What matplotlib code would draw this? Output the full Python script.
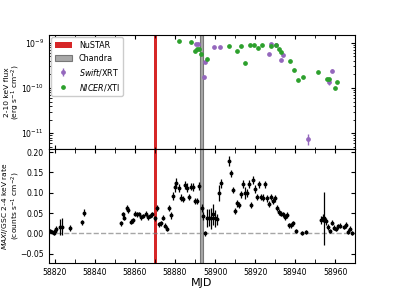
import numpy as np
import matplotlib
matplotlib.use('Agg')
import matplotlib.pyplot as plt
from matplotlib.ticker import MultipleLocator

# ---------- data ----------
# Swift/XRT flux (erg/s/cm2)
swift_mjd = [58890.3, 58891.7, 58894.7, 58895.0, 58899.7, 58902.3, 58926.8,
             58928.2, 58930.3, 58932.8, 58934.2, 58946.5, 58957.2, 58958.5]
swift_flux = [9.2e-10, 9.2e-10, 1.7e-10, 3.7e-10, 8.2e-10, 8.2e-10, 5.7e-10,
              9.4e-10, 8.7e-10, 4.2e-10, 5.4e-10, 7.4e-12, 1.35e-10, 2.4e-10]
swift_err = [4e-11, 4e-11, 1.2e-11, 2e-11, 4e-11, 4e-11, 3e-11,
             5e-11, 4e-11, 2.5e-11, 3e-11, 2e-12, 2e-11, 2e-11]

# NICER/XTI flux
nicer_mjd = [58882.2, 58887.8, 58889.8, 58890.8, 58892.2, 58892.8, 58895.8,
             58907.0, 58911.2, 58912.8, 58915.2, 58917.3, 58919.5, 58921.5,
             58923.5, 58928.2, 58930.5, 58932.2, 58933.2, 58937.5, 58939.5,
             58941.3, 58943.8, 58951.3, 58955.8, 58957.2, 58959.8, 58961.2]
nicer_flux = [1.11e-9, 1.04e-9, 6.5e-10, 7.4e-10, 7.4e-10, 5.5e-10, 4.4e-10,
              8.5e-10, 6.6e-10, 8.3e-10, 3.6e-10, 8.8e-10, 9.0e-10, 7.6e-10,
              8.8e-10, 8.5e-10, 8.8e-10, 7.4e-10, 6.1e-10, 3.9e-10, 2.45e-10,
              1.5e-10, 1.75e-10, 2.3e-10, 1.6e-10, 1.6e-10, 1.0e-10, 1.34e-10]

# MAXI/GSC 2-4 keV rate
maxi_mjd = [58817.3, 58818.3, 58819.3, 58820.0, 58820.7, 58822.7, 58823.7,
            58827.7, 58833.7, 58834.7,
            58853.0, 58853.8, 58854.7, 58855.8, 58856.7, 58857.8, 58858.8,
            58860.0, 58861.0, 58862.0, 58863.0, 58864.0, 58865.3, 58866.3,
            58867.5, 58868.7, 58869.8, 58871.2, 58872.2, 58873.2, 58874.2,
            58875.0, 58875.8, 58876.8, 58877.8, 58878.8, 58879.8, 58880.3,
            58882.2, 58882.8, 58883.8, 58884.8, 58885.8, 58887.2, 58888.2,
            58889.2, 58890.2, 58891.2, 58892.2, 58893.3, 58894.2, 58895.2,
            58896.2, 58897.2, 58898.2, 58899.2, 58900.2, 58901.2, 58902.2,
            58903.2, 58907.2, 58908.2, 58909.2, 58910.2, 58911.2, 58912.2,
            58913.2, 58914.2, 58915.2, 58916.2, 58917.2, 58918.2, 58919.2,
            58920.2, 58921.2, 58922.2, 58923.2, 58924.2, 58925.2, 58926.2,
            58927.2, 58928.2, 58929.2, 58930.2, 58931.2, 58932.2, 58933.2,
            58934.2, 58935.2, 58936.2, 58937.2, 58938.2, 58939.2, 58940.5,
            58943.3, 58945.3,
            58953.2, 58954.0, 58954.5, 58955.5, 58956.5, 58957.5, 58958.5,
            58959.5, 58960.5, 58961.5, 58962.5, 58964.5, 58965.5, 58966.5,
            58967.5, 58968.5]
maxi_rate = [0.006, 0.004, 0.001, 0.006, 0.011, 0.016, 0.017,
             0.013, 0.027, 0.051,
             0.025, 0.047, 0.039, 0.063, 0.057, 0.029, 0.032,
             0.049, 0.047, 0.048, 0.040, 0.043, 0.049, 0.040,
             0.043, 0.047, 0.037, 0.063, 0.023, 0.025, 0.039,
             0.019, 0.012, 0.063, 0.045, 0.092, 0.115, 0.125,
             0.111, 0.088, 0.085, 0.119, 0.113, 0.090, 0.115,
             0.114, 0.080, 0.080, 0.117, 0.062, 0.043, 0.000,
             0.039, 0.039, 0.037, 0.047, 0.037, 0.035, 0.099,
             0.123, 0.178, 0.148, 0.107, 0.055, 0.074, 0.070,
             0.096, 0.121, 0.099, 0.099, 0.121, 0.070, 0.132,
             0.109, 0.090, 0.121, 0.090, 0.088, 0.121, 0.086,
             0.072, 0.090, 0.080, 0.086, 0.063, 0.053, 0.049,
             0.047, 0.041, 0.045, 0.020, 0.020, 0.025, 0.007,
             0.002, 0.004,
             0.033, 0.037, 0.037, 0.030, 0.016, 0.006, 0.026,
             0.014, 0.011, 0.018, 0.019, 0.016, 0.021, 0.004,
             0.012, 0.001]
maxi_err = [0.004, 0.004, 0.005, 0.007, 0.007, 0.020, 0.022,
            0.008, 0.007, 0.008,
            0.006, 0.007, 0.006, 0.007, 0.006, 0.006, 0.006,
            0.006, 0.006, 0.006, 0.006, 0.006, 0.006, 0.006,
            0.006, 0.006, 0.006, 0.007, 0.006, 0.006, 0.006,
            0.006, 0.006, 0.008, 0.009, 0.010, 0.012, 0.012,
            0.010, 0.008, 0.008, 0.010, 0.010, 0.008, 0.009,
            0.009, 0.008, 0.008, 0.010, 0.010, 0.009, 0.006,
            0.022, 0.020, 0.025, 0.025, 0.020, 0.014, 0.020,
            0.012, 0.012, 0.008, 0.008, 0.007, 0.008, 0.008,
            0.009, 0.010, 0.015, 0.010, 0.010, 0.008, 0.010,
            0.009, 0.008, 0.009, 0.008, 0.008, 0.008, 0.008,
            0.008, 0.008, 0.008, 0.008, 0.008, 0.007, 0.007,
            0.007, 0.007, 0.007, 0.006, 0.006, 0.006, 0.005,
            0.005, 0.005,
            0.010, 0.010, 0.065, 0.008, 0.007, 0.006, 0.006,
            0.006, 0.006, 0.006, 0.006, 0.006, 0.008, 0.006,
            0.006, 0.005]

nustar_span = (58869.6, 58870.9)
chandra_span = (58892.4, 58894.2)

# ---------- figure ----------
plt.rcParams['font.size'] = 6
fig = plt.figure(figsize=(3.95, 2.96), dpi=100)
ax1 = fig.add_axes([0.124, 0.497, 0.775, 0.385])
ax2 = fig.add_axes([0.124, 0.111, 0.775, 0.386], sharex=ax1)

for ax in (ax1, ax2):
    ax.axvspan(*nustar_span, color='#d62728', lw=0, label='NuSTAR', zorder=1)
    ax.axvspan(*chandra_span, facecolor='#a8a8a8', edgecolor='#777777',
               lw=0.8, label='Chandra', zorder=1)

# top panel: flux
ax1.errorbar(swift_mjd, swift_flux, yerr=swift_err, fmt='o', ms=2.4,
             color='#9467bd', elinewidth=1, label=r'$\it{Swift}$/XRT', zorder=3)
ax1.errorbar(nicer_mjd, nicer_flux, fmt='o', ms=2.4, color='#2ca02c',
             label=r'$\it{NICER}$/XTI', zorder=3)
ax1.set_yscale('log')
ax1.set_ylim(4.5e-12, 1.48e-9)
ax1.set_ylabel('2-10 keV flux\n(erg s$^{-1}$ cm$^{-2}$)', fontsize=5.4,
               linespacing=0.95)
ax1.legend(loc='upper left', fontsize=5.8, handlelength=2.2,
           borderaxespad=0.3, framealpha=1)
plt.setp(ax1.get_xticklabels(), visible=False)

# bottom panel: MAXI rate
ax2.errorbar(maxi_mjd, maxi_rate, xerr=0.5, yerr=maxi_err, fmt='o', ms=1.8,
             color='black', elinewidth=0.9, zorder=3)
ax2.axhline(0, color='gray', ls='--', lw=1, alpha=0.7, zorder=2)
ax2.set_ylim(-0.073, 0.208)
ax2.yaxis.set_major_locator(MultipleLocator(0.05))
ax2.set_ylabel(r'$\it{MAXI}$/GSC 2-4 keV rate' + '\n(counts s$^{-1}$ cm$^{-2}$)',
               fontsize=5.4, linespacing=0.95)
ax2.set_xlabel('MJD', fontsize=8, labelpad=1)
ax2.set_xlim(58817, 58970)
ax2.xaxis.set_major_locator(MultipleLocator(20))
ax2.xaxis.set_minor_locator(MultipleLocator(10))

for ax in (ax1, ax2):
    ax.tick_params(which='both', direction='in', top=True, right=True,
                   labelsize=5.6)
    ax.tick_params(which='major', length=3)
    ax.tick_params(which='minor', length=1.8)
    ax.yaxis.set_label_coords(-0.089, 0.5)
ax2.tick_params(axis='x', which='minor', length=3)

fig.savefig('out.png', dpi=100)
